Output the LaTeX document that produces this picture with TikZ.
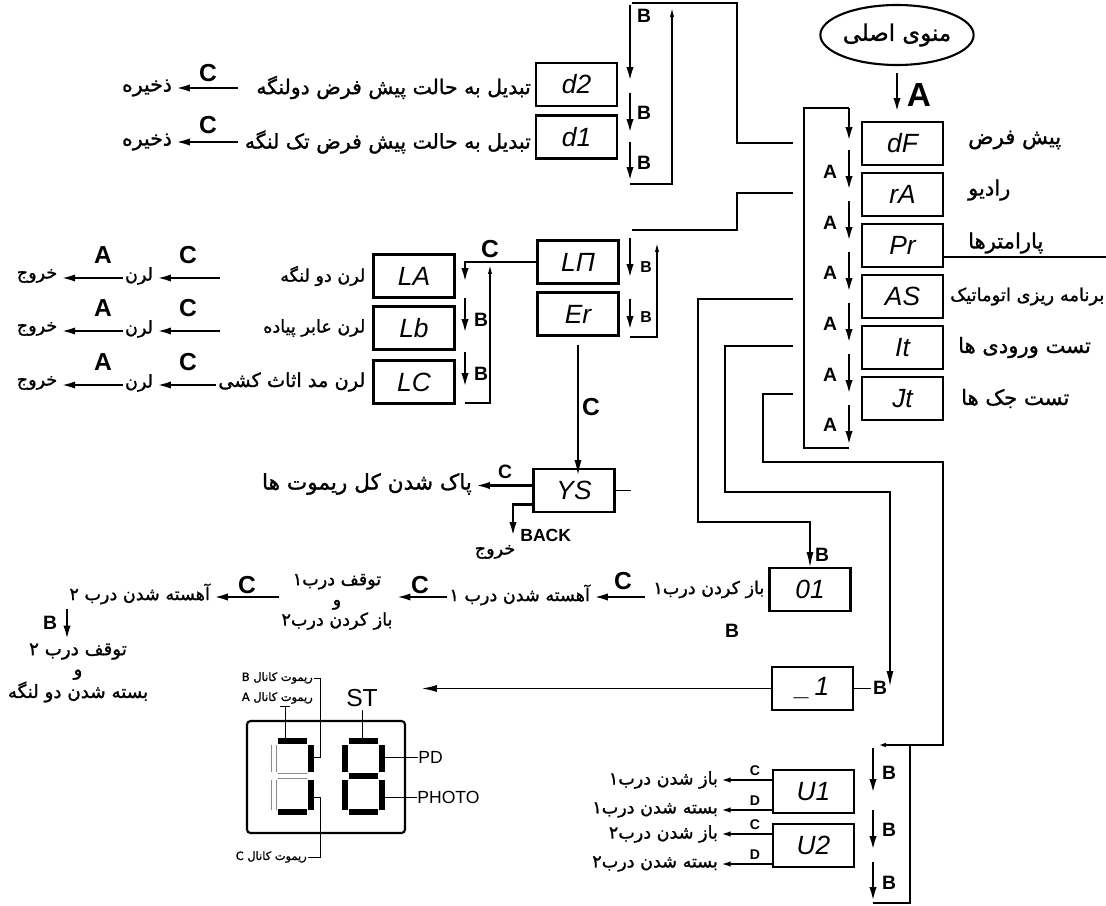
\documentclass[tikz,border=0pt]{standalone}
\usepackage{fontspec}
\setmainfont{Liberation Sans}
\newfontfamily\fa[Script=Arabic, FakeBold=1.2]{DejaVu Sans}
\usetikzlibrary{arrows.meta,shapes.geometric}
\TeXXeTstate=1
\newcommand\rl[1]{{\fa\beginR#1\endR}}

\begin{document}
\begin{tikzpicture}
[
    x=0.02cm, y=-0.02cm,
    seg/.style={draw, line width=1.2pt, minimum width=1.62cm, minimum height=0.86cm, inner sep=0pt, font=\itshape\fontsize{15}{15}\selectfont},
    btn/.style={font=\bfseries\fontsize{11}{11}\selectfont, inner sep=0pt},
    big btn/.style={font=\bfseries\fontsize{14}{14}\selectfont, inner sep=0pt},
    small btn/.style={font=\bfseries\fontsize{8}{8}\selectfont, inner sep=0pt},
    big text/.style={font=\fontsize{12}{14}\selectfont, inner sep=1pt},
    mid text/.style={font=\fontsize{11.6}{13}\selectfont, inner sep=1pt},
    small text/.style={font=\fontsize{10}{11.5}\selectfont, inner sep=1pt},
    tiny text/.style={font=\fontsize{6.5}{7}\selectfont, inner sep=0.5pt},
    wire/.style={line width=1.1pt},
    go/.style={line width=1.6pt, -{Latex[length=9pt,width=4pt]}},
    go long/.style={line width=1.1pt, -{Latex[length=9pt,width=4pt]}},
    go small/.style={line width=1.3pt, -{Latex[length=6pt,width=3pt]}},
    back/.style={line width=0.7pt, -{Latex[length=5pt,width=2.4pt]}},
    lit/.style={line width=3.2pt},
    dim/.style={draw=black!45, line width=0.4pt, double=white, double distance=2.2pt},
    lead/.style={line width=0.5pt},
]
\useasboundingbox (0,0) rectangle (1106,906);

\node[draw, ellipse, line width=1.2pt, minimum width=2.78cm, minimum height=1.2cm, inner sep=0pt, font=\fontsize{13}{13}\selectfont] (menu) at (897,35) {\rl{منوی اصلی}};
\node[seg] (dF) at (902.5,143.5) {dF};
\node[seg] (rA) at (902.5,194.5) {rA};
\node[seg] (Pr) at (902.5,245.5) {Pr};
\node[seg] (AS) at (902.5,296.5) {AS};
\node[seg] (It) at (902.5,347.5) {It};
\node[seg] (Jt) at (902.5,398.5) {Jt};
\draw[go] ([yshift=-0.14cm]menu.south) -- ([yshift=0.14cm]menu.south |- dF.north);
\node[font=\bfseries\fontsize{19}{19}\selectfont, inner sep=0pt] at (919,95) {A};

\node[big text, anchor=west] (dFt) at ([xshift=0.44cm,yshift=0.07cm]dF.east) {\rl{پیش فرض}};
\node[big text, anchor=west] (rAt) at ([xshift=0.44cm,yshift=0.09cm]rA.east) {\rl{رادیو}};
\node[big text, anchor=west] (Prt) at ([xshift=0.44cm,yshift=0.05cm]Pr.east) {\rl{پارامترها}};
\node[small text, font=\fontsize{10.2}{12}\selectfont, anchor=west] (ASt) at ([xshift=0.08cm]AS.east) {\rl{برنامه ریزی اتوماتیک}};
\node[big text, anchor=west] (Itt) at ([xshift=0.24cm]It.east) {\rl{تست ورودی ها}};
\node[big text, anchor=west] (Jtt) at ([xshift=0.3cm]Jt.east) {\rl{تست جک ها}};
\draw[wire] (Pr.east |- 0,257) -- (1106,257);

\draw[wire] (849,448) -- (804,448) -- (804,108) -- (849,108);
\draw[go] (849,108) -- (849,143);
\draw[go] (849,150) -- (849,192); \node[btn] at (830,172) {A};
\draw[go] (849,201) -- (849,243); \node[btn] at (830,223) {A};
\draw[go] (849,252) -- (849,294); \node[btn] at (830,273) {A};
\draw[go] (849,303) -- (849,345); \node[btn] at (830,324) {A};
\draw[go] (849,354) -- (849,396); \node[btn] at (830,375) {A};
\draw[go] (849,405) -- (849,447); \node[btn] at (830,425) {A};

\draw[wire] (793,143) -- (737,143) -- (737,3) -- (632,3);
\draw[wire] (793,193) -- (737,193) -- (737,230) -- (632,230);

\node[seg] (d2) at (576.5,84.5) {d2};
\node[seg] (d1) at (576.5,137) {d1};
\draw[go] (630,5) -- (630,83); \node[btn] at (644,16) {B};
\draw[go] (630,93) -- (630,135); \node[btn] at (644,113) {B};
\draw[go] (630,142) -- (630,183); \node[btn] at (644,163) {B};
\draw[back] (630,184) -- (672,184) -- (672,8);
\node[mid text, anchor=east] (d2t) at ([xshift=-0.04cm,yshift=-0.06cm]d2.west) {\rl{تبدیل به حالت پیش فرض دولنگه}};
\node[mid text] (d2s) at (147,88) {\rl{ذخیره}};
\coordinate (d2c) at (238,88);
\draw[go] (d2c) -- (d2c -| d2s.east);
\node[big btn] at (208,73) {C};
\node[mid text, anchor=east] (d1t) at ([xshift=-0.04cm,yshift=-0.1cm]d1.west) {\rl{تبدیل به حالت پیش فرض تک لنگه}};
\node[mid text] (d1s) at (147,142) {\rl{ذخیره}};
\coordinate (d1c) at (238,142);
\draw[go] (d1c) -- (d1c -| d1s.east);
\node[big btn] at (208,125) {C};

\node[seg] (LN) at (578,262) {LП};
\node[seg] (Er) at (578,314) {Er};
\draw[go] (630,238) -- (630,280); \node[small btn, font=\bfseries\fontsize{9}{9}\selectfont] at (646,267) {B};
\draw[go] (630,299) -- (630,332); \node[small btn, font=\bfseries\fontsize{9}{9}\selectfont] at (646,317) {B};
\draw[back] (630,337) -- (657,337) -- (657,243);

\node[seg] (LA) at (414,276) {LA};
\node[seg] (Lb) at (414,328) {Lb};
\node[seg] (LC) at (414,382) {LC};
\draw[go] (LN.west) -| (465,284);
\draw[go] (465,298) -- (465,335); \node[btn] at (481,320) {B};
\draw[go] (465,352) -- (465,389); \node[btn] at (481,374) {B};
\draw[back] (465,403) -- (490,403) -- (490,265);
\node[big btn] at (490,249) {C};

\node[small text, anchor=east] (LAt) at ([xshift=-0.1cm]LA.west) {\rl{لرن دو لنگه}};
\node[small text] (LAl) at (139,276) {\rl{لرن}};
\node[small text] (LAx) at (37,276) {\rl{خروج}};
\coordinate (LAc) at (220,278);
\draw[go] (LAc) -- (LAc -| LAl.east);
\draw[go] (LAc -| LAl.west) -- (LAc -| LAx.east);
\node[big btn] at (188,255) {C};
\node[big btn] at (103,255) {A};

\node[small text, anchor=east] (Lbt) at ([xshift=-0.1cm]Lb.west) {\rl{لرن عابر پیاده}};
\node[small text] (Lbl) at (139,329) {\rl{لرن}};
\node[small text] (Lbx) at (37,329) {\rl{خروج}};
\coordinate (Lbc) at (220,331);
\draw[go] (Lbc) -- (Lbc -| Lbl.east);
\draw[go] (Lbc -| Lbl.west) -- (Lbc -| Lbx.east);
\node[big btn] at (188,308) {C};
\node[big btn] at (103,308) {A};

\node[small text, font=\fontsize{11}{12}\selectfont, anchor=east] (LCt) at ([xshift=-0.1cm]LC.west) {\rl{لرن مد اثاث کشی}};
\node[small text] (LCl) at (139,383) {\rl{لرن}};
\node[small text] (LCx) at (37,383) {\rl{خروج}};
\coordinate (LCc) at (220,385);
\draw[go] (LCc -| LCt.west) -- (LCc -| LCl.east);
\draw[go] (LCc -| LCl.west) -- (LCc -| LCx.east);
\node[big btn] at (188,362) {C};
\node[big btn] at (103,362) {A};

\node[seg] (YS) at (574,490.5) {YS};
\draw[go long] ([yshift=-0.16cm]Er.south) -- ([yshift=-0.16cm]Er.south |- YS.north);
\node[big btn] at (591,407) {C};
\draw[wire] (YS.east) -- ++(15,0);
\node[mid text, font=\fontsize{12.3}{14}\selectfont, anchor=east] (YSt) at (474,484) {\rl{پاک شدن کل ریموت ها}};
\draw[go] ([yshift=0.1cm]YS.west) -- ([yshift=0.1cm]YS.west -| YSt.east);
\node[btn] at (505,472) {C};
\draw[go] ([yshift=-0.28cm]YS.west) -| (513,538);
\node[font=\bfseries\fontsize{10}{10}\selectfont, anchor=west, inner sep=0pt] at (520,535) {BACK};
\node[small text] at (495,552) {\rl{خروج}};

\draw[go long] (793,299) -- (698,299) -- (698,522) -| (810,568);
\draw[go long] (793,346) -- (725,346) -- (725,492) -| (890,687);
\draw[wire, -{Latex[length=5pt,width=2.4pt]}] (793,394) -- (763,394) -- (763,462) -- (943,462) -- (943,745) -- (877,745);

\node[seg] (o1) at (810,589.5) {01};
\node[small text, anchor=east] (o1t) at ([xshift=-0.04cm]o1.west) {\rl{باز کردن درب۱}};
\node[btn] at (822,555) {B};
\node[btn] at (732,631) {B};
\coordinate (o1c) at (645,597);
\node[small text, anchor=east] (sl1) at (592,595) {\rl{آهسته شدن درب ۱}};
\draw[go] (o1c) -- (o1c -| sl1.east);
\node[big btn] at (623,581) {C};
\node[small text, align=center] (st1) at (337,602) {\rl{توقف درب۱}\\\rl{و}\\\rl{باز کردن درب۲}};
\draw[go] (o1c -| sl1.west) -- (o1c -| st1.east);
\node[big btn] at (420,585) {C};
\node[small text, anchor=east] (sl2) at (212,594) {\rl{آهسته شدن درب ۲}};
\draw[go] (o1c -| st1.west) -- (o1c -| sl2.east);
\node[big btn] at (247,585) {C};
\node[small text, font=\fontsize{10.4}{11.5}\selectfont, align=center] (st2) at (78,673) {\rl{توقف درب ۲}\\\rl{و}\\\rl{بسته شدن دو لنگه}};
\draw[go] (67,609) -- (st2.north -| 67,0);
\node[btn] at (50,623) {B};

\node[seg] (u) at (812.5,688.5) {\_\,1};
\draw[wire] (u.east) -- ++(17,0);
\node[btn] at (880,688) {B};
\draw[go long] (u.west) -- (u.west -| 421,0);

\node[seg] (U1) at (813.5,791.5) {U1};
\node[seg] (U2) at (813.5,845.5) {U2};
\node[small text, anchor=east] (U1o) at (720,780) {\rl{باز شدن درب۱}};
\node[small text, anchor=east] (U1c) at (720,810) {\rl{بسته شدن درب۱}};
\node[small text, anchor=east] (U2o) at (720,834) {\rl{باز شدن درب۲}};
\node[small text, anchor=east] (U2c) at (720,864) {\rl{بسته شدن درب۲}};
\draw[go small] (U1.west |- U1o) -- (U1o.east); \node[small btn] at (755,771) {C};
\draw[go small] (U1.west |- U1c) -- (U1c.east); \node[small btn] at (755,801) {D};
\draw[go small] (U2.west |- U2o) -- (U2o.east); \node[small btn] at (755,825) {C};
\draw[go small] (U2.west |- U2c) -- (U2c.east); \node[small btn] at (755,855) {D};
\draw[go] (873,748) -- (873,795); \node[btn] at (889,773) {B};
\draw[go] (873,810) -- (873,852); \node[btn] at (889,830) {B};
\draw[go] (873,862) -- (873,903); \node[btn] at (889,883) {B};
\draw[wire] (873,903) -- (910,903) -- (910,745);

\draw[line width=1.2pt, rounded corners=2pt] (247,721) rectangle (405,833);
\draw[lit] (278,741) -- (307,741);
\draw[lit] (311,745) -- (311,772);
\draw[lit] (311,780) -- (311,810);
\draw[lit] (278,812) -- (307,812);
\draw[dim] (274,745) -- (274,772);
\draw[dim] (274,780) -- (274,810);
\draw[dim] (278,776) -- (307,776);
\draw[lit] (349,741) -- (378,741);
\draw[lit] (382,745) -- (382,772);
\draw[lit] (382,780) -- (382,810);
\draw[lit] (349,812) -- (378,812);
\draw[lit] (345,745) -- (345,772);
\draw[lit] (345,780) -- (345,810);
\draw[lit] (349,776) -- (378,776);
\node[tiny text, anchor=east] (chB) at (314,678) {\rl{ریموت کانال B}};
\draw[lead] (chB.east) -- (320,678) -- (320,757) -- (313,757);
\node[tiny text, anchor=east] (chA) at (314,698) {\rl{ریموت کانال A}};
\draw[lead] (280,706) -- (290,706) (285,706) -- (285,739);
\node[font=\fontsize{14}{14}\selectfont, inner sep=0pt] (st) at (362,698) {ST};
\draw[lead] ([yshift=-0.06cm]st.south) -- (362,739);
\node[font=\fontsize{10}{10}\selectfont, anchor=west, inner sep=0pt] (pd) at (418,757) {PD};
\draw[lead] (384,757) -- (pd.west);
\node[font=\fontsize{10}{10}\selectfont, anchor=west, inner sep=0pt] (ph) at (417,797) {PHOTO};
\draw[lead] (384,797) -- (ph.west);
\node[tiny text, anchor=east] (chC) at (308,857) {\rl{ریموت کانال C}};
\draw[lead] (313,797) -- (320,797) -- (320,857) -- (chC.east);
\end{tikzpicture}
\end{document}
